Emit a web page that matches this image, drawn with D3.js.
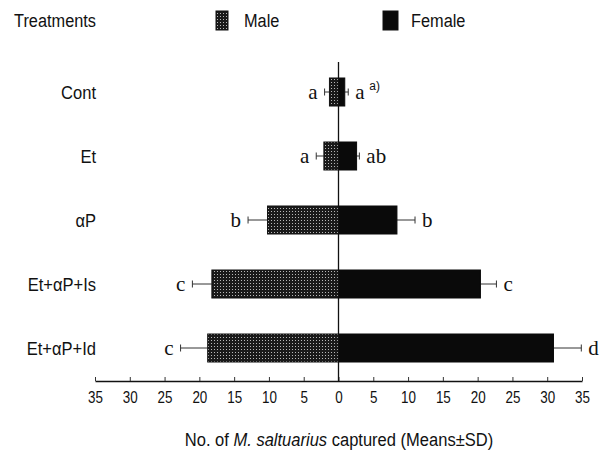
<!DOCTYPE html>
<html>
<head>
<meta charset="utf-8">
<script src="https://cdn.jsdelivr.net/npm/d3@7/dist/d3.min.js"></script>
<style>
  html, body { margin: 0; padding: 0; background: #fff; }
  svg { display: block; }
  .sans { font-family: "Liberation Sans", Arial, sans-serif; }
  .serif { font-family: "Liberation Serif", "DejaVu Serif", serif; }
</style>
</head>
<body>
<div id="chart"></div>
<script>
// ---- data ----
const categories = ["Cont", "Et", "\u03b1P", "Et+\u03b1P+Is", "Et+\u03b1P+Id"];
const maleMean   = [1.3, 2.1, 10.2, 18.2, 18.8];
const maleSD     = [0.7, 1.1, 2.8, 2.8, 3.9];
const femaleMean = [0.9, 2.6, 8.4, 20.4, 30.9];
const femaleSD   = [0.5, 0.4, 2.6, 2.3, 4.0];
const maleLetters   = ["a", "a", "b", "c", "c"];
const femaleLetters = ["a", "ab", "b", "c", "d"];
const tickValues = [-35, -30, -25, -20, -15, -10, -5, 0, 5, 10, 15, 20, 25, 30, 35];
const seriesNames = ["Male", "Female"];

const W = 599, H = 457;
const svg = d3.select("#chart").append("svg").attr("width", W).attr("height", H);

// condensed text: place a text at (px,py) inside a horizontally squeezed group
function narrowText(parent, px, py, k) {
  return parent.append("g").attr("transform", `translate(${px},${py}) scale(${k},1)`)
    .append("text").attr("x", 0).attr("y", 0);
}

// stipple pattern for Male
const defs = svg.append("defs");
const pat = defs.append("pattern").attr("id", "stipple")
  .attr("patternUnits", "userSpaceOnUse").attr("width", 3).attr("height", 3);
pat.append("rect").attr("width", 3).attr("height", 3).attr("fill", "#1a1a1a");
pat.append("rect").attr("x", 1).attr("y", 1).attr("width", 1).attr("height", 1).attr("fill", "#b8b8b8");

const x = d3.scaleLinear().domain([-35, 35]).range([95, 582]);
const y = d3.scaleBand().domain(categories).range([60, 380])
  .paddingInner(0.5625).paddingOuter(0.28125);
const axisY = 381;

// axis
const axis = d3.axisBottom(x).tickValues(tickValues)
  .tickSizeInner(-4).tickSizeOuter(0).tickPadding(11)
  .tickFormat(d => Math.abs(d));
const gAxis = svg.append("g").attr("transform", `translate(0,${axisY})`).call(axis);
gAxis.attr("font-family", null).attr("font-size", null);
gAxis.select(".domain").attr("stroke", "#111").attr("stroke-width", 1.3);
gAxis.selectAll(".tick line").attr("stroke", "#333");
gAxis.selectAll(".tick text")
  .attr("class", "sans").attr("font-size", 16).attr("fill", "#111")
  .attr("transform", "scale(0.84,1)");

// data rows
const rows = categories.map((c, i) => ({
  c, m: maleMean[i], ms: maleSD[i], f: femaleMean[i], fs: femaleSD[i],
  ml: maleLetters[i], fl: femaleLetters[i]
}));

const bh = y.bandwidth();
const g = svg.append("g");

// error bars
rows.forEach(d => {
  const cy = y(d.c) + bh / 2;
  [[-d.m, -(d.m + d.ms)], [d.f, d.f + d.fs]].forEach(([a, b]) => {
    g.append("line").attr("x1", x(a)).attr("x2", x(b)).attr("y1", cy).attr("y2", cy)
      .attr("stroke", "#333").attr("stroke-width", 1);
    g.append("line").attr("x1", x(b)).attr("x2", x(b)).attr("y1", cy - 3.5).attr("y2", cy + 3.5)
      .attr("stroke", "#333").attr("stroke-width", 1);
  });
});

// male bars
g.selectAll("rect.male").data(rows).join("rect").attr("class", "male")
  .attr("x", d => x(-d.m)).attr("width", d => x(0) - x(-d.m))
  .attr("y", d => y(d.c)).attr("height", bh)
  .attr("fill", "url(#stipple)").attr("stroke", "#111").attr("stroke-width", 1);

// female bars
g.selectAll("rect.female").data(rows).join("rect").attr("class", "female")
  .attr("x", x(0)).attr("width", d => x(d.f) - x(0))
  .attr("y", d => y(d.c)).attr("height", bh)
  .attr("fill", "#0a0a0a").attr("stroke", "#0a0a0a").attr("stroke-width", 1);

// zero line
svg.append("line")
  .attr("x1", x(0)).attr("x2", x(0)).attr("y1", 62).attr("y2", axisY)
  .attr("stroke", "#111").attr("stroke-width", 1.3);

// significance letters
const gap = 7;
g.selectAll("text.ml").data(rows).join("text").attr("class", "serif")
  .attr("x", d => x(-(d.m + d.ms)) - gap).attr("y", d => y(d.c) + bh / 2)
  .attr("dy", "0.35em").attr("text-anchor", "end").attr("font-size", 21).attr("fill", "#111")
  .text(d => d.ml);
g.selectAll("text.fl").data(rows).join("text").attr("class", "serif")
  .attr("x", d => x(d.f + d.fs) + gap).attr("y", d => y(d.c) + bh / 2)
  .attr("dy", "0.35em").attr("text-anchor", "start").attr("font-size", 21).attr("fill", "#111")
  .text(d => d.fl);
// footnote marker on first row
g.append("text").attr("class", "sans")
  .attr("x", x(femaleMean[0] + femaleSD[0]) + gap + 14).attr("y", y(categories[0]) + bh / 2 - 2)
  .attr("font-size", 12).attr("fill", "#111").text("a)");

// category labels
categories.forEach(c => {
  narrowText(svg, 96, y(c) + bh / 2, 0.87)
    .attr("class", "sans").attr("dy", "0.35em").attr("text-anchor", "end")
    .attr("font-size", 19).attr("fill", "#111").text(c);
});

// header
narrowText(svg, 96, 27, 0.86).attr("class", "sans").attr("text-anchor", "end")
  .attr("font-size", 19).attr("fill", "#111").text("Treatments");

// legend
const legendX = [216, 383];
seriesNames.forEach((s, i) => {
  svg.append("rect").attr("x", legendX[i]).attr("y", 11).attr("width", i === 0 ? 12 : 15).attr("height", 19)
    .attr("fill", i === 0 ? "url(#stipple)" : "#0a0a0a").attr("stroke", "#111");
  narrowText(svg, legendX[i] + 28, 27, 0.86).attr("class", "sans")
    .attr("font-size", 19).attr("fill", "#111").text(s);
});

// x-axis title
const title = narrowText(svg, 339, 446, 0.87).attr("class", "sans")
  .attr("text-anchor", "middle").attr("font-size", 19).attr("fill", "#111");
title.append("tspan").text("No. of ");
title.append("tspan").attr("font-style", "italic").text("M. saltuarius");
title.append("tspan").text(" captured (Means\u00b1SD)");
</script>
</body>
</html>
